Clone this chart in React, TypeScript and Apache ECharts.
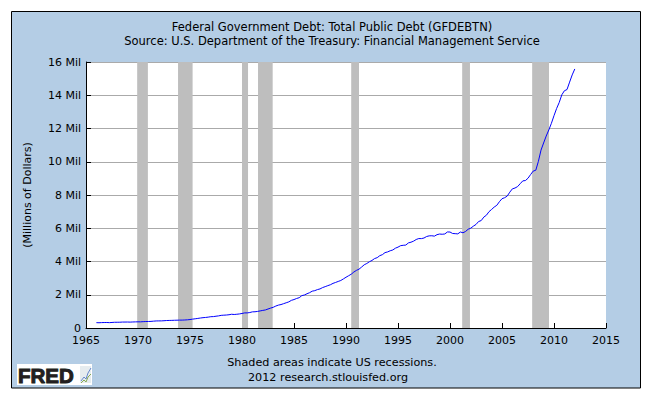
import React, { useEffect, useRef } from "react";
import * as echarts from "echarts";

const titleText = "Federal Government Debt: Total Public Debt (GFDEBTN)";
const subtitleText = "Source: U.S. Department of the Treasury: Financial Management Service";
const yAxisTitle = "(Millions of Dollars)";
const footnote1 = "Shaded areas indicate US recessions.";
const footnote2 = "2012 research.stlouisfed.org";

// Quarterly observations, first quarter of 1966 onward (millions of dollars)
const firstYear = 1966;
const debtValues = [
  320999, 316097, 324748, 329319,
  330947, 322893, 332736, 344663,
  345369, 347578, 356432, 358029,
  359694, 353720, 362024, 368226,
  372007, 370919, 381880, 389158,
  391651, 398130, 411999, 424131,
  427260, 427751, 437437, 449298,
  453993, 458141, 464342, 469898,
  474235, 475060, 481458, 492665,
  507726, 533189, 553646, 576649,
  599646, 620433, 634701, 653544,
  680120, 685189, 709138, 729207,
  760945, 771544, 780425, 797735,
  826519, 812251, 826519, 845116,
  873392, 907701, 908723, 930210,
  971211, 977428, 997855, 1028729,
  1058999, 1084728, 1142034, 1197073,
  1245263, 1319597, 1376316, 1410702,
  1463721, 1517203, 1572266, 1663017,
  1710661, 1774643, 1823103, 1945941,
  1986804, 2059341, 2125302, 2214834,
  2246654, 2309290, 2350277, 2431715,
  2487625, 2547722, 2602338, 2684392,
  2739916, 2799940, 2857430, 2953003,
  3052001, 3143753, 3233313, 3364820,
  3465181, 3538041, 3665303, 3801698,
  3881297, 3984704, 4064621, 4177009,
  4230580, 4352044, 4411489, 4535687,
  4575868, 4645804, 4692750, 4800150,
  4864116, 4951372, 4973983, 4988665,
  5117786, 5161076, 5224811, 5323197,
  5380890, 5376151, 5413146, 5502388,
  5542429, 5547952, 5526193, 5614217,
  5651615, 5638780, 5656271, 5776091,
  5773392, 5685938, 5674178, 5662216,
  5773740, 5726815, 5807463, 5943439,
  6006032, 6126469, 6228236, 6405707,
  6460776, 6670121, 6783231, 6997964,
  7131068, 7274335, 7379053, 7596144,
  7776939, 7836496, 7932710, 8170414,
  8371156, 8420042, 8506974, 8680224,
  8849665, 8867673, 9007653, 9229172,
  9437594, 9492006, 10024725, 10699805,
  11126940, 11545275, 11909829, 12311350,
  12773123, 13201792, 13561623, 14025215,
  14270114, 14343088, 14790340, 15222940,
  15582079,
];

const recessionStarts = [1969.92, 1973.85, 1980.0, 1981.54, 1990.5, 2001.17, 2007.9];
const recessionEnds = [1970.95, 1975.25, 1980.58, 1982.95, 1991.25, 2001.92, 2009.52];

const xTicks = { min: 1965, max: 2015, interval: 5 };
const yTicks = { min: 0, max: 16000000, interval: 2000000 };

const FONT = "DejaVu Sans";

export default function App() {
  const ref = useRef<HTMLDivElement>(null);

  useEffect(() => {
    if (!ref.current) return;
    const chart = echarts.init(ref.current, undefined, { renderer: "svg" });

    const lineData = debtValues.map((v, i) => [firstYear + i * 0.25, v]);
    const areas = recessionStarts.map((s, i) => [{ xAxis: s }, { xAxis: recessionEnds[i] }]);

    chart.setOption({
      animation: false,
      backgroundColor: "#ffffff",
      title: [
        {
          text: titleText,
          left: 327,
          top: 15,
          textAlign: "center",
          textStyle: { fontFamily: FONT, fontSize: 11.5, fontWeight: "normal", color: "#000", lineHeight: 13 },
        },
        {
          text: subtitleText,
          left: 327,
          top: 29,
          textAlign: "center",
          textStyle: { fontFamily: FONT, fontSize: 11.5, fontWeight: "normal", color: "#000", lineHeight: 13 },
        },
      ],
      graphic: [
        {
          type: "rect",
          z: -10,
          shape: { x: 11.5, y: 11.5, width: 629, height: 376.5 },
          style: { fill: "#B4CDE5", stroke: "#000000", lineWidth: 1 },
          silent: true,
        },
        {
          type: "rect",
          z: -5,
          shape: { x: 86, y: 62, width: 520, height: 266 },
          style: { fill: "#ffffff" },
          silent: true,
        },
        {
          type: "text",
          x: 27,
          y: 195,
          rotation: Math.PI / 2,
          style: {
            text: yAxisTitle,
            fontFamily: FONT,
            fontSize: 11,
            fill: "#000",
            align: "center",
            verticalAlign: "middle",
          },
        },
        {
          type: "text",
          x: 332,
          y: 362,
          style: { text: footnote1, fontFamily: FONT, fontSize: 11.2, fill: "#000", align: "center", verticalAlign: "middle" },
        },
        {
          type: "text",
          x: 328,
          y: 377,
          style: { text: footnote2, fontFamily: FONT, fontSize: 11.2, fill: "#000", align: "center", verticalAlign: "middle" },
        },
        {
          type: "group",
          children: [
            { type: "rect", shape: { x: 17, y: 364, width: 75, height: 21 }, style: { fill: "#ffffff" } },
            {
              type: "text",
              x: 18,
              y: 375,
              style: {
                text: "FRED",
                fontFamily: "Liberation Sans",
                fontWeight: 900,
                fontSize: 20.5,
                fill: "#231f20",
                stroke: "#231f20",
                lineWidth: 1,
                align: "left",
                verticalAlign: "middle",
              },
            },
            { type: "rect", shape: { x: 80, y: 366, width: 11, height: 17 }, style: { fill: "#e6ecef" } },
            {
              type: "polyline",
              shape: { points: [[81, 381], [84, 377], [86, 379], [88, 373], [91, 368]] },
              style: { stroke: "#6688cc", lineWidth: 1, fill: "none" },
            },
            {
              type: "polyline",
              shape: { points: [[81, 383], [84, 380], [86, 382], [88, 377], [91, 374]] },
              style: { stroke: "#88aa55", lineWidth: 1, fill: "none" },
            },
          ],
        },
      ],
      grid: { left: 86, top: 62, width: 520, height: 266, containLabel: false },
      xAxis: {
        type: "value",
        min: xTicks.min,
        max: xTicks.max,
        interval: xTicks.interval,
        axisLine: { show: true, onZero: false, lineStyle: { color: "#000", width: 1 } },
        axisTick: { show: true, inside: true, length: 5, lineStyle: { color: "#000" } },
        axisLabel: {
          fontFamily: FONT,
          fontSize: 11,
          color: "#000",
          margin: 7,
          formatter: (v: number) => String(v),
        },
        splitLine: { show: false },
      },
      yAxis: {
        type: "value",
        min: yTicks.min,
        max: yTicks.max,
        interval: yTicks.interval,
        axisLine: { show: true, lineStyle: { color: "#000", width: 1 } },
        axisTick: { show: true, inside: true, length: 5, lineStyle: { color: "#000" } },
        axisLabel: {
          fontFamily: FONT,
          fontSize: 11,
          color: "#000",
          margin: 5,
          formatter: (v: number) => (v === 0 ? "0" : v / 1000000 + " Mil"),
        },
        splitLine: { show: true, lineStyle: { color: "#AAAAAA", width: 1 } },
      },
      series: [
        {
          type: "line",
          name: "recessions",
          data: [],
          z: 1,
          silent: true,
          markArea: {
            silent: true,
            itemStyle: { color: "#BEBEBE", opacity: 1 },
            data: areas,
          },
        },
        {
          type: "line",
          name: "GFDEBTN",
          data: lineData,
          z: 5,
          showSymbol: false,
          symbol: "none",
          lineStyle: { color: "#0000FF", width: 1 },
        },
      ],
    });

    return () => chart.dispose();
  }, []);

  return (
    <div
      ref={ref}
      style={{ position: "absolute", left: 0, top: 0, width: 652, height: 398 }}
    />
  );
}
